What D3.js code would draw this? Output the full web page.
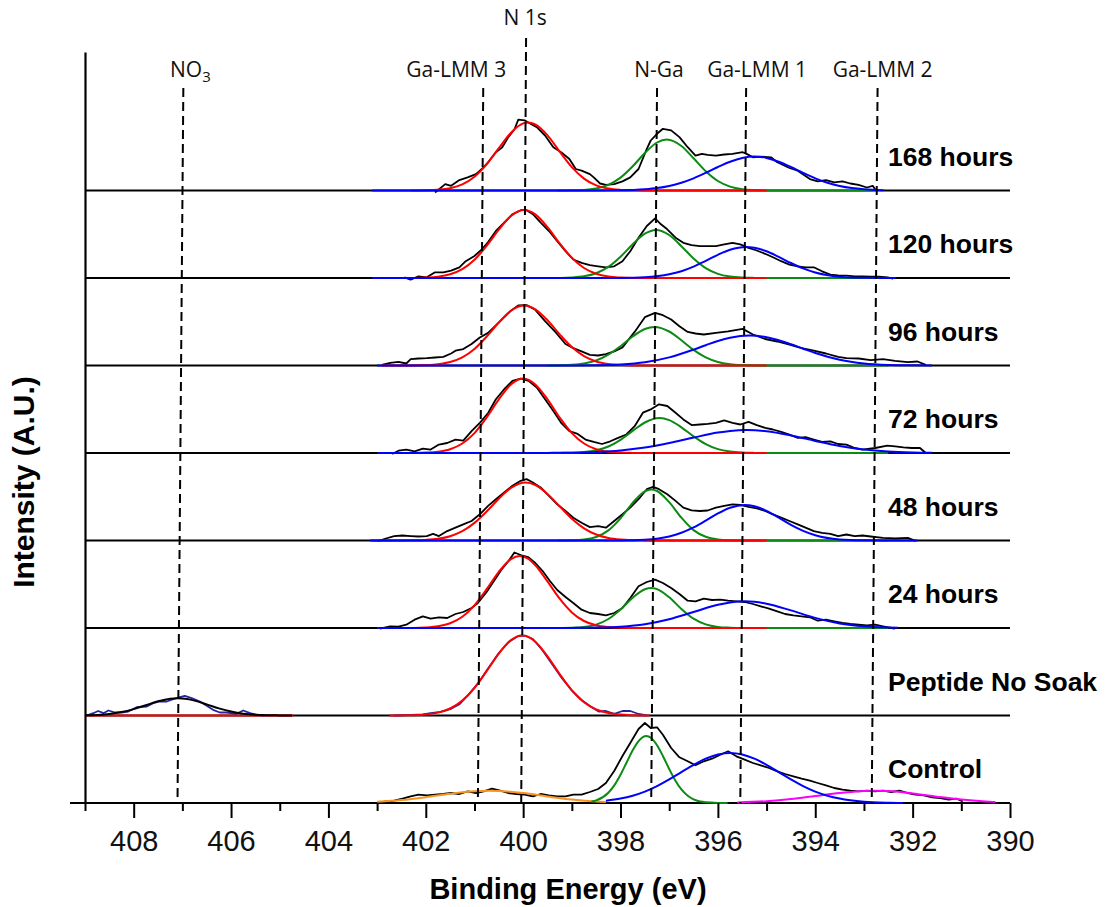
<!DOCTYPE html>
<html>
<head>
<meta charset="utf-8">
<script src="https://cdn.jsdelivr.net/npm/d3@7"></script>
<style>
  body { margin: 0; background: #fff; }
  svg { display: block; }
</style>
</head>
<body>
<svg id="chart" width="1107" height="907"></svg>
<script>
// ---------- axis values ----------
const energyDomain = [409, 390];
const majorTicks = [408, 406, 404, 402, 400, 398, 396, 394, 392, 390];
const minorTicks = [409, 407, 405, 403, 401, 399, 397, 395, 393, 391];

// spectra from bottom (row 0) to top (row 7)
const rowLabels = ["Control", "Peptide No Soak", "24 hours", "48 hours", "72 hours", "96 hours", "120 hours", "168 hours"];

// reference energies (eV) of the assignment guide lines, at the top and at the axis
const markerNames = ["NO3", "Ga-LMM 3", "N 1s", "N-Ga", "Ga-LMM 1", "Ga-LMM 2"];
const markerTopEnergy = [406.98, 400.82, 399.94, 397.25, 395.42, 392.72];
const markerBottomEnergy = [407.10, 400.93, 400.04, 397.37, 395.54, 392.84];

// ---------- measured spectra: [binding energy (eV), intensity (A.U.)] ----------
const raw168 = [[401.81,-2],[401.6,6.4],[401.48,4.7],[401.31,10.4],[401.14,13.1],[400.97,16.4],[400.85,21.5],[400.72,28.2],[400.56,38.3],[400.43,43.3],[400.31,53],[400.18,61],[400.1,70.8],[399.97,70.1],[399.85,66.8],[399.72,63.4],[399.55,55],[399.38,43.3],[399.22,38.3],[399.05,31.5],[398.92,21.5],[398.8,19.8],[398.63,16.4],[398.55,13.1],[398.42,7],[398.3,5.7],[398.13,6.4],[397.96,9.1],[397.8,13.1],[397.63,21.5],[397.46,41.6],[397.38,50],[397.25,56.7],[397.13,61.7],[396.96,60.1],[396.79,53.4],[396.62,43.3],[396.46,34.9],[396.33,36.6],[396.21,35.6],[396.04,34.9],[395.87,36],[395.7,36.6],[395.49,38.3],[395.41,36.6],[395.28,33.2],[395.12,33.9],[394.91,33.2],[394.78,28.2],[394.53,22.5],[394.36,19.8],[394.11,11.4],[393.95,9.1],[393.78,10.4],[393.61,8.1],[393.44,9.1],[393.28,7],[393.11,5.7],[392.94,3],[392.82,4.7],[392.75,-0.3]];
const raw120 = [[402.44,0.7],[402.31,-1.7],[402.15,1.7],[401.98,0.7],[401.81,5.7],[401.64,5.7],[401.48,7.4],[401.31,10.7],[401.18,16.8],[401.0,22],[400.85,28.5],[400.72,36],[400.56,47],[400.39,55.4],[400.22,63.8],[400.05,67.8],[399.93,67.8],[399.8,63.8],[399.64,55.4],[399.47,47],[399.3,36.9],[399.13,26.8],[398.97,18.5],[398.8,15.1],[398.63,12.8],[398.46,11.7],[398.3,10.7],[398.13,11.7],[397.96,16.8],[397.8,26.8],[397.63,40.3],[397.46,52],[397.29,59.7],[397.17,53.7],[397.04,48.7],[396.87,40.3],[396.71,35.2],[396.54,32.9],[396.37,31.9],[396.21,31.9],[396.04,31.9],[395.87,33.6],[395.7,35.2],[395.54,33.6],[395.37,30.2],[395.2,27.5],[395.03,24.2],[394.87,20.8],[394.7,16.8],[394.53,13.4],[394.36,11.7],[394.2,10.7],[394.03,10.7],[393.86,6.7],[393.69,3.4],[393.53,2.7],[393.36,2.3],[393.19,1.7],[393.03,1.7],[392.86,1.3],[392.69,1.3],[392.52,0.7],[392.4,-0.7]];
const raw96 = [[402.9,0.7],[402.73,2.7],[402.56,3.7],[402.4,2],[402.31,6.4],[402.15,7],[401.98,7.4],[401.81,8],[401.64,8.7],[401.48,12],[401.39,14.8],[401.23,16.4],[401.06,21.5],[400.89,28],[400.72,32.6],[400.47,44.3],[400.26,54.4],[400.1,60],[399.93,60.4],[399.76,56],[399.55,44.3],[399.34,33.6],[399.13,21.5],[398.97,17.4],[398.8,14.1],[398.63,10.7],[398.46,10],[398.3,11.4],[398.13,14.1],[397.96,18.1],[397.71,33.6],[397.5,48.3],[397.29,52.7],[397.13,50.3],[396.96,46],[396.79,39.3],[396.62,33.6],[396.46,32],[396.29,31],[396.04,32.6],[395.79,34.2],[395.49,36.6],[395.28,31],[395.03,26.5],[394.78,24],[394.53,20.8],[394.28,17.4],[394.03,14.8],[393.78,12],[393.53,8.7],[393.36,7.4],[393.11,7],[392.86,5.4],[392.61,6.4],[392.36,4.7],[392.1,3.4],[391.9,4],[391.73,0.7]];
const raw72 = [[402.69,-1],[402.56,2.3],[402.4,3.4],[402.23,1.7],[402.06,4.4],[401.9,3.4],[401.73,8.4],[401.56,10],[401.39,13.4],[401.23,12.4],[401.06,21.8],[400.89,30.2],[400.72,40],[400.56,53.7],[400.39,63.8],[400.22,72.1],[400.05,74.5],[399.89,72.1],[399.72,65.4],[399.55,53.7],[399.38,41.9],[399.22,30.2],[399.05,21.8],[398.88,19.1],[398.72,13.4],[398.55,11.1],[398.38,9],[398.21,11.7],[398.05,15.1],[397.88,18.5],[397.71,26.8],[397.54,40.3],[397.38,43.6],[397.21,48.7],[397.04,47],[396.87,40.3],[396.71,33.6],[396.54,27.9],[396.37,28.5],[396.21,29.2],[396.04,30.2],[395.87,32.6],[395.7,30.2],[395.54,28.5],[395.37,31.2],[395.2,27.9],[395.03,25.2],[394.87,23.5],[394.7,21.1],[394.53,18.5],[394.36,15.1],[394.2,15.8],[394.03,13.4],[393.86,11.1],[393.69,11.7],[393.53,9],[393.36,8.4],[393.19,5],[393.03,3.4],[392.77,5],[392.52,7.4],[392.36,6.7],[392.19,5.7],[392.02,5],[391.85,5],[391.73,0]];
const raw48 = [[402.98,-0.7],[402.82,2],[402.65,4.4],[402.48,5],[402.31,4.4],[402.15,4],[401.98,4.4],[401.85,6.7],[401.73,4.4],[401.56,9.4],[401.39,12.8],[401.23,16.1],[401.06,19.5],[400.89,26.2],[400.72,34.6],[400.56,41.3],[400.39,48],[400.22,54.7],[400.05,59.7],[399.93,61.4],[399.8,58],[399.64,53],[399.47,44.6],[399.3,36.2],[399.13,29.5],[398.97,22.8],[398.8,17.8],[398.63,13.4],[398.46,14.4],[398.3,12.8],[398.13,19.5],[397.96,26.2],[397.8,32.9],[397.63,41.3],[397.46,51.3],[397.33,53.7],[397.21,51.3],[397.04,46.3],[396.87,39.6],[396.71,32.9],[396.54,30.2],[396.37,29.5],[396.21,30],[396.04,32.9],[395.87,34.6],[395.7,36.2],[395.54,35.6],[395.37,33.6],[395.2,32.2],[395.03,29.5],[394.87,26.2],[394.7,22.8],[394.53,19.5],[394.36,16.1],[394.2,12.8],[394.03,9.4],[393.86,7.7],[393.69,6.7],[393.53,4.4],[393.36,6],[393.19,4.4],[393.03,5],[392.86,4],[392.61,2.7],[392.36,2],[392.1,2.7],[391.94,-0.3]];
const raw24 = [[402.94,-0.7],[402.73,1.7],[402.56,1.3],[402.4,3.3],[402.23,8.3],[402.06,11.7],[401.9,9.3],[401.73,10.7],[401.56,10],[401.39,14],[401.23,16],[401.06,20],[400.93,25],[400.75,36],[400.6,47],[400.45,58],[400.3,67],[400.18,75.5],[400.05,73],[399.9,71],[399.75,65],[399.6,57],[399.45,47],[399.3,38],[399.13,31],[398.97,25],[398.8,18.3],[398.63,15],[398.46,14],[398.3,12.7],[398.13,15],[397.96,20],[397.8,30],[397.63,41.7],[397.46,46],[397.29,48.3],[397.13,45],[396.96,40],[396.79,34],[396.62,27.3],[396.46,26.7],[396.29,29.3],[396.12,28],[395.95,28.3],[395.79,27.3],[395.62,26.7],[395.45,26],[395.28,24],[395.12,21.7],[394.95,19.3],[394.78,16.7],[394.62,14],[394.45,12.7],[394.28,11.7],[394.11,10.7],[393.95,7.3],[393.78,8.3],[393.61,6.7],[393.44,5],[393.28,4],[393.11,3.3],[392.94,2.7],[392.77,3.3],[392.61,1.7],[392.44,0],[392.36,-0.7]];
const rawPeptide = [[402.65,0],[402.4,0.4],[402.06,1],[401.9,2.3],[401.7,3.6],[401.48,6.7],[401.3,11.5],[401.1,22],[400.9,34],[400.7,48.5],[400.5,62.5],[400.3,73.5],[400.1,79.5],[399.95,79.8],[399.8,76.5],[399.6,65],[399.4,51],[399.2,37],[399,25],[398.8,15.5],[398.6,8.5],[398.45,4],[398.3,4.5],[398.13,1.7],[397.96,4.5],[397.8,4.5],[397.63,1.5],[397.46,0]];
const rawPeptideNO3 = [[408.97,0],[408.83,2.3],[408.73,4.5],[408.62,2.3],[408.52,5],[408.38,3],[408.25,3],[408.11,4],[407.94,8.3],[407.73,9],[407.6,12.3],[407.46,14],[407.32,14],[407.19,16.3],[407.05,18.3],[406.95,19.7],[406.81,17.3],[406.64,14],[406.5,9.7],[406.37,5.7],[406.23,3],[406.09,3],[405.89,1.7],[405.75,5],[405.61,2.3],[405.47,0.7],[405.34,0]];
const rawControl = [[402.98,0],[402.82,1.7],[402.65,2.3],[402.48,4.3],[402.31,6.7],[402.15,8.3],[401.98,7.7],[401.81,8.3],[401.64,9],[401.48,10],[401.31,9],[401.14,11.7],[400.97,10],[400.81,11.7],[400.64,14.3],[400.47,12.3],[400.31,10],[400.14,9],[399.97,8.3],[399.8,6.7],[399.64,9],[399.47,7.7],[399.3,6.7],[399.13,6.7],[398.97,8.3],[398.8,8.3],[398.63,11],[398.46,14],[398.3,20],[398.13,32],[397.96,47],[397.8,60],[397.63,74],[397.5,80],[397.38,75],[397.25,75.7],[397.13,68.3],[396.96,55],[396.79,45.7],[396.62,41.7],[396.46,37.7],[396.29,41.7],[396.12,44.3],[395.95,48.3],[395.79,51.7],[395.62,46.7],[395.45,43.3],[395.28,40],[395.12,37.7],[394.95,35],[394.78,31.7],[394.62,29],[394.45,26.7],[394.28,24.3],[394.11,22.3],[393.95,20],[393.78,17.7],[393.61,15],[393.44,13.3],[393.28,12.3],[393.11,11.7],[392.94,12.3],[392.77,11.7],[392.61,12.3],[392.44,11],[392.27,12.3],[392.1,10],[391.94,8.3],[391.77,7.7],[391.6,5.7],[391.43,5],[391.26,3.3],[391.1,4.3],[390.97,1.7]];

// ---------- fitted components: [binding energy (eV), intensity (A.U.)] ----------
const red168 = [[402.3,0],[402,0.2],[401.75,0.8],[401.5,2.3],[401.25,6.1],[401,13.8],[400.75,26.2],[400.5,42.3],[400.25,57.8],[400,67.1],[399.9,68],[399.75,66],[399.5,55.1],[399.25,38.9],[399,23.4],[398.75,11.9],[398.5,5.1],[398.25,1.9],[398,0.6],[397.75,0.15],[397.5,0],[395,0]];
const green168 = [[399.3,0],[399,0.2],[398.75,0.6],[398.5,2.1],[398.25,5.7],[398,12.9],[397.75,24.2],[397.5,37.5],[397.25,48],[397.05,51],[396.75,44.5],[396.5,32.2],[396.25,19.3],[396,9.5],[395.75,3.9],[395.5,1.3],[395.25,0.4],[395,0.1],[394.75,0],[392.8,0]];
const blue168 = [[403.1,0],[398.5,0],[398,0.2],[397.5,1.2],[397.25,2.4],[397,4.5],[396.75,7.7],[396.5,12.1],[396.25,17.6],[396,23.5],[395.75,28.8],[395.5,32.6],[395.25,34],[395,32.6],[394.75,28.8],[394.5,23.5],[394.25,17.6],[394,12.1],[393.75,7.7],[393.5,4.5],[393.25,2.4],[393,1.2],[392.6,0.3]];

const red120 = [[402.7,0],[402.25,0.1],[402,0.4],[401.75,1.3],[401.5,3.7],[401.25,8.8],[401,18.2],[400.75,32.1],[400.5,48.3],[400.25,62],[399.98,68],[399.75,63.6],[399.5,50.8],[399.25,34.6],[399,20.2],[398.75,10],[398.5,4.3],[398.25,1.5],[398,0.5],[397.75,0.1],[397.5,0],[395,0]];
const green120 = [[399.5,0],[399.25,0.1],[399,0.5],[398.75,1.7],[398.5,4.8],[398.25,11.1],[398,21.3],[397.75,33.8],[397.5,44.3],[397.27,48],[397,43],[396.75,31.8],[396.5,19.5],[396.25,9.9],[396,4.1],[395.75,1.4],[395.5,0.4],[395.25,0.1],[395,0],[392.7,0]];
const blue120 = [[403.1,0],[398.5,0],[398,0.1],[397.5,0.8],[397,3.7],[396.75,6.8],[396.5,11.4],[396.25,17.2],[396,23.2],[395.75,28.2],[395.42,31],[395.25,30.2],[395,26.7],[394.75,21.1],[394.5,15],[394.25,9.6],[394,5.5],[393.5,1.3],[393,0.2],[392.35,0]];

const red96 = [[402.9,0],[402.25,0.1],[402,0.4],[401.75,1.3],[401.5,3.5],[401.25,8.2],[401,16.6],[400.75,28.9],[400.5,43],[400.25,54.8],[399.98,60],[399.75,56.2],[399.5,45.2],[399.25,31.1],[399,18.4],[398.75,9.3],[398.5,4],[398.25,1.5],[398,0.5],[397.75,0.1],[397.5,0],[395,0]];
const green96 = [[399.5,0],[399.25,0.2],[399,0.7],[398.75,2],[398.5,5],[398.25,10.8],[398,19.3],[397.75,29],[397.5,36.5],[397.3,38.6],[397,34],[396.75,25.2],[396.5,15.6],[396.25,8.1],[396,3.5],[395.75,1.3],[395.5,0.4],[395.25,0.1],[395,0],[392.5,0]];
const blue96 = [[403,0],[399.5,0],[399,0.05],[398.5,0.25],[398,1],[397.5,3.2],[397,8.1],[396.5,15.9],[396.25,20.3],[396,24.5],[395.75,27.8],[395.35,30],[395,28.3],[394.75,25.2],[394.5,21.2],[394.25,16.8],[394,12.5],[393.5,5.8],[393,2.1],[392.5,0.6],[392,0.14],[391.6,0]];

const red72 = [[402.8,0],[402.25,0.1],[402,0.4],[401.75,1.3],[401.5,3.8],[401.25,9.5],[401,19.9],[400.75,35.5],[400.5,53.6],[400.25,68.6],[400,74.5],[399.75,68.6],[399.5,53.6],[399.25,35.5],[399,19.9],[398.75,9.5],[398.5,3.8],[398.25,1.3],[398,0.4],[397.75,0.1],[397.5,0],[395,0]];
const green72 = [[399.5,0],[399.25,0.1],[399,0.25],[398.75,0.9],[398.5,2.7],[398.25,6.5],[398,13.2],[397.75,22.1],[397.5,30.5],[397.2,35],[397,32.9],[396.75,25.7],[396.5,16.6],[396.25,8.9],[396,3.9],[395.75,1.4],[395.5,0.4],[395.25,0.1],[395,0],[392.5,0]];
const blue72 = [[403,0],[400.5,0],[400,0.02],[399.5,0.1],[399,0.3],[398.5,1],[398,2.5],[397.5,5.4],[397,9.9],[396.5,15.4],[396,20.4],[395.75,22.1],[395.4,23],[395,21.8],[394.5,17.6],[394,12.1],[393.5,7],[393,3.4],[392.5,1.4],[392,0.5],[391.6,0.2]];

const red48 = [[403.1,0],[402.5,0.05],[402.25,0.2],[402,0.6],[401.75,1.7],[401.5,4.3],[401.25,9.3],[401,17.6],[400.75,29],[400.5,41.8],[400.25,52.6],[399.95,58],[399.75,55.5],[399.5,46.6],[399.25,34.1],[399,21.8],[398.75,12.2],[398.5,6],[398.25,2.5],[398,0.9],[397.75,0.3],[397.5,0.1],[397.25,0],[395,0]];
const green48 = [[399.3,0],[399,0.2],[398.75,0.9],[398.5,3.5],[398.25,10.1],[398,22.2],[397.75,37.7],[397.5,49.2],[397.37,51],[397.25,49.5],[397,38.3],[396.75,22.8],[396.5,10.4],[396.25,3.7],[396,1],[395.75,0.2],[395.5,0],[392.5,0]];
const blue48 = [[403.15,0],[398.5,0],[398,0.1],[397.5,0.8],[397,4],[396.75,7.7],[396.5,13.1],[396.25,19.9],[396,27.1],[395.75,32.8],[395.45,35.6],[395.25,34.3],[395,29.6],[394.75,22.8],[394.5,15.7],[394.25,9.7],[394,5.3],[393.5,1.1],[393,0.2],[392.5,0],[391.9,0]];

const red24 = [[403,0],[402.5,0.03],[402.25,0.1],[402,0.5],[401.75,1.7],[401.5,4.7],[401.25,11.2],[401,22.7],[400.75,38.8],[400.5,56.2],[400.25,68.9],[400.07,72],[399.9,69.3],[399.75,62.8],[399.5,46.6],[399.25,29.3],[399,15.6],[398.75,7],[398.5,2.7],[398.25,0.9],[398,0.2],[397.75,0],[395,0]];
const green24 = [[399.2,0],[399,0.2],[398.75,1],[398.5,3.4],[398.25,9],[398,18.6],[397.75,30.3],[397.5,38.7],[397.37,40],[397.25,38.9],[397,30.7],[396.75,19.1],[396.5,9.3],[396.25,3.6],[396,1.1],[395.75,0.3],[395.5,0],[392.5,0]];
const blue24 = [[403,0],[399.5,0],[399,0.1],[398.5,0.4],[398,1.3],[397.5,3.8],[397,8.8],[396.5,16],[396,23.2],[395.75,25.6],[395.45,26.7],[395.25,26.2],[395,24.3],[394.5,17.6],[394,10.1],[393.5,4.6],[393,1.7],[392.5,0.5],[392.3,0.3]];

const redPeptide = [[402.75,0],[402.5,0.1],[402.25,0.3],[402,1],[401.75,2.9],[401.5,7],[401.25,14.9],[401,27.5],[400.75,44.3],[400.5,61.9],[400.25,75.4],[400.02,80],[399.75,73.8],[399.5,59.2],[399.25,41.4],[399,25.2],[398.75,13.3],[398.5,6.1],[398.25,2.5],[398,0.9],[397.75,0.3],[397.4,0]];
const no3Peptide = [[408.97,0.2],[408.75,0.6],[408.5,1.5],[408.25,3.4],[408,6.4],[407.75,10.3],[407.5,14.2],[407.25,16.8],[407.1,17.3],[406.9,16.5],[406.75,14.9],[406.5,11.1],[406.25,7.1],[406,3.9],[405.75,1.8],[405.5,0.7],[405.25,0.25],[405,0.1],[404.75,0]];
const no3Background = [[408.97,0],[404.73,0]];

const orangeControl = [[403,1.2],[402.5,2.9],[402,5.8],[401.5,9.3],[401,11.8],[400.7,12.3],[400.5,12.1],[400,9.9],[399.5,6.5],[399,3.4],[398.5,1.4],[398.3,1]];
const greenControl = [[398.6,1.3],[398.5,2.6],[398.25,10.3],[398.125,17.9],[398,28.3],[397.875,40.5],[397.75,52.7],[397.625,62.2],[397.47,67],[397.375,65.2],[397.25,57.7],[397.125,46.5],[397,34],[396.875,22.6],[396.75,13.6],[396.625,7.5],[396.5,3.7],[396.25,0.7],[396,0.1],[395.8,0]];
const blueControl = [[398.3,2.2],[398,4.4],[397.75,7.3],[397.5,11.4],[397.25,16.9],[397,23.6],[396.75,30.9],[396.5,38.1],[396.25,44.3],[396,48.5],[395.75,50],[395.5,48.5],[395.25,44.3],[395,38.1],[394.75,30.9],[394.5,23.6],[394.25,16.9],[394,11.4],[393.75,7.3],[393.5,4.4],[393,1.3],[392.5,0.3],[392.2,0.1]];
const magentaControl = [[395.6,0.6],[395,1.8],[394.5,3.9],[394,7],[393.5,10.1],[393,12.1],[392.8,12.3],[392.5,11.9],[392,9.6],[391.5,6.3],[391,3.4],[390.5,1.5],[390.3,1]];

// ---------- colours ----------
const RED = "#ff0000", GREEN = "#0c8a14", BLUE = "#0000ff", ORANGE = "#f7931e", MAGENTA = "#ff00ff", NAVY = "#24249c";

// per-row drawing lists (row index counts up from the axis)
const rows = [
  { fits: [[orangeControl, ORANGE], [magentaControl, MAGENTA], [greenControl, GREEN], [blueControl, BLUE]], raw: [[rawControl, "#000"]] },
  { pre: [[no3Background, RED], [rawPeptideNO3, NAVY], [rawPeptide, NAVY]], fits: [[no3Peptide, "#000"], [redPeptide, RED]], raw: [] },
  { fits: [[green24, GREEN], [red24, RED], [blue24, BLUE]], raw: [[raw24, "#000"]] },
  { fits: [[green48, GREEN], [red48, RED], [blue48, BLUE]], raw: [[raw48, "#000"]] },
  { fits: [[green72, GREEN], [red72, RED], [blue72, BLUE]], raw: [[raw72, "#000"]] },
  { fits: [[green96, GREEN], [red96, RED], [blue96, BLUE]], raw: [[raw96, "#000"]] },
  { fits: [[green120, GREEN], [red120, RED], [blue120, BLUE]], raw: [[raw120, "#000"]] },
  { fits: [[green168, GREEN], [red168, RED], [blue168, BLUE]], raw: [[raw168, "#000"]] }
];

// ---------- layout ----------
const plotLeft = 85, plotRight = 1010, axisY = 803, plotTop = 52;
const rowGap = 87.5;
const markerTopY = [88, 88, 38, 88, 88, 88];
const markerLabelY = [77, 77, 25, 77, 77, 77];
const markerLabelDx = [7, -27, -1, 2, 11, 5];
const sansFont = "'Liberation Sans', Arial, Helvetica, sans-serif";
const labelFont = "'Open Sans', 'Noto Sans', sans-serif";

const svg = d3.select("#chart");
const x = d3.scaleLinear().domain(energyDomain).range([plotLeft, plotRight]);
const y = d3.scaleLinear().domain([0, axisY - plotTop]).range([axisY, plotTop]);

const lineFor = (offset, curve) => d3.line()
  .x(d => x(d[0]))
  .y(d => y(d[1] + offset))
  .curve(curve);

// row baselines
rows.forEach((row, i) => {
  if (i === 0) return;
  const off = i * rowGap;
  svg.append("line")
    .attr("x1", x(409)).attr("x2", x(390))
    .attr("y1", y(off)).attr("y2", y(off))
    .attr("stroke", "#000").attr("stroke-width", 1.8);
});

// x axis line (extends slightly left of the y axis)
svg.append("line")
  .attr("x1", 70).attr("x2", x(390))
  .attr("y1", axisY).attr("y2", axisY)
  .attr("stroke", "#000").attr("stroke-width", 2.2);

// spectra
rows.forEach((row, i) => {
  const off = i * rowGap;
  const g = svg.append("g");
  (row.pre || []).forEach(([data, color]) => {
    g.append("path").datum(data)
      .attr("d", lineFor(off, d3.curveLinear))
      .attr("fill", "none").attr("stroke", color)
      .attr("stroke-width", 1.8).attr("stroke-linejoin", "round");
  });
  row.raw.forEach(([data, color]) => {
    g.append("path").datum(data)
      .attr("d", lineFor(off, d3.curveLinear))
      .attr("fill", "none").attr("stroke", color)
      .attr("stroke-width", 1.8).attr("stroke-linejoin", "round");
  });
  row.fits.forEach(([data, color]) => {
    g.append("path").datum(data)
      .attr("d", lineFor(off, d3.curveMonotoneX))
      .attr("fill", "none").attr("stroke", color)
      .attr("stroke-width", 2).attr("stroke-linejoin", "round");
  });
});

// guide lines and their labels
markerNames.forEach((name, i) => {
  svg.append("line")
    .attr("x1", x(markerTopEnergy[i])).attr("y1", markerTopY[i])
    .attr("x2", x(markerBottomEnergy[i])).attr("y2", axisY)
    .attr("stroke", "#000").attr("stroke-width", 2)
    .attr("stroke-dasharray", "9,5");
  const t = svg.append("text")
    .attr("x", x(markerTopEnergy[i]) + markerLabelDx[i])
    .attr("y", markerLabelY[i])
    .attr("text-anchor", "middle")
    .attr("font-family", labelFont)
    .attr("font-size", 21)
    .attr("fill", "#111");
  if (name === "NO3") {
    t.append("tspan").text("NO");
    t.append("tspan").attr("dy", 5).attr("font-size", 15).text("3");
  } else {
    t.text(name);
  }
});

// row labels
rowLabels.forEach((label, i) => {
  svg.append("text")
    .attr("x", 888)
    .attr("y", y(i * rowGap) - 25)
    .attr("font-family", sansFont)
    .attr("font-weight", "bold")
    .attr("font-size", 26.5)
    .attr("fill", "#000")
    .text(label);
});

// x axis ticks
const gMajor = svg.append("g").attr("transform", `translate(0,${axisY})`)
  .call(d3.axisBottom(x).tickValues(majorTicks).tickSize(15).tickPadding(12).tickFormat(d3.format("d")));
gMajor.select(".domain").remove();
gMajor.selectAll(".tick line").attr("stroke", "#000").attr("stroke-width", 2);
gMajor.selectAll(".tick text")
  .attr("font-family", sansFont).attr("font-size", 29).attr("fill", "#111");

const gMinor = svg.append("g").attr("transform", `translate(0,${axisY})`)
  .call(d3.axisBottom(x).tickValues(minorTicks).tickSize(8).tickFormat(""));
gMinor.select(".domain").remove();
gMinor.selectAll(".tick line").attr("stroke", "#000").attr("stroke-width", 2);

// y axis (line only)
const gY = svg.append("g").attr("transform", `translate(${plotLeft},0)`)
  .call(d3.axisLeft(y).tickValues([]).tickSizeOuter(0));
gY.select(".domain").attr("stroke", "#000").attr("stroke-width", 2.2);

// axis titles
svg.append("text")
  .attr("x", 568).attr("y", 899)
  .attr("text-anchor", "middle")
  .attr("font-family", sansFont).attr("font-weight", "bold")
  .attr("font-size", 29).attr("fill", "#000")
  .text("Binding Energy (eV)");

svg.append("text")
  .attr("transform", "translate(34,482) rotate(-90)")
  .attr("text-anchor", "middle")
  .attr("font-family", sansFont).attr("font-weight", "bold")
  .attr("font-size", 30).attr("fill", "#000")
  .text("Intensity (A.U.)");
</script>
</body>
</html>
